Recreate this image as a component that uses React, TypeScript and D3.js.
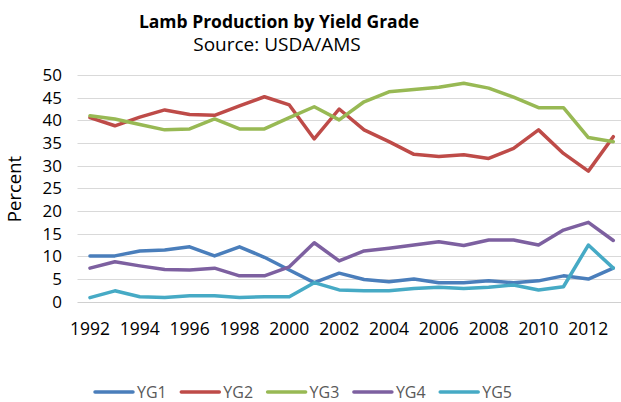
import * as d3 from "d3";
import { useEffect, useRef } from "react";

const years = [
  1992, 1993, 1994, 1995, 1996, 1997, 1998, 1999, 2000, 2001, 2002,
  2003, 2004, 2005, 2006, 2007, 2008, 2009, 2010, 2011, 2012, 2013,
];
const yg1 = [10.1, 10.1, 11.2, 11.4, 12.1, 10.1, 12.1, 9.8, 7.0, 4.2, 6.3, 4.9, 4.4, 5.0, 4.2, 4.2, 4.6, 4.2, 4.6, 5.7, 5.0, 7.4];
const yg2 = [40.6, 38.8, 40.7, 42.3, 41.3, 41.1, 43.2, 45.2, 43.4, 35.9, 42.5, 37.9, 35.3, 32.5, 32.0, 32.4, 31.6, 33.8, 37.9, 32.7, 28.8, 36.4];
const yg3 = [41.0, 40.3, 39.1, 37.9, 38.1, 40.3, 38.1, 38.1, 40.6, 43.0, 40.1, 44.1, 46.3, 46.8, 47.3, 48.2, 47.1, 45.1, 42.8, 42.8, 36.2, 35.3];
const yg4 = [7.4, 8.8, 7.9, 7.1, 7.0, 7.4, 5.7, 5.7, 7.7, 13.0, 9.0, 11.2, 11.8, 12.5, 13.2, 12.4, 13.6, 13.6, 12.5, 15.8, 17.5, 13.5];
const yg5 = [0.9, 2.4, 1.1, 0.9, 1.3, 1.3, 0.9, 1.1, 1.1, 4.2, 2.6, 2.4, 2.4, 2.9, 3.2, 2.9, 3.2, 3.7, 2.6, 3.3, 12.5, 7.4];
const seriesNames = ["YG1", "YG2", "YG3", "YG4", "YG5"];
const seriesColors = ["#4a7ebb", "#be4b48", "#98b954", "#7d60a0", "#46aac5"];
const yTicks = [0, 5, 10, 15, 20, 25, 30, 35, 40, 45, 50];
const xTicks = [1992, 1994, 1996, 1998, 2000, 2002, 2004, 2006, 2008, 2010, 2012];

const font = "'Open Sans', 'DejaVu Sans', sans-serif";

function drawChart(svgElement: SVGSVGElement) {
  const width = 621;
  const height = 402;
  const svg = d3.select(svgElement);
  svg.selectAll("*").remove();
  svg.attr("viewBox", `0 0 ${width} ${height}`);

  const step = 24.92;
  const x = d3
    .scaleLinear()
    .domain([1991.5, 2013.5])
    .range([77.5, 77.5 + 22 * step]);
  const y = d3.scaleLinear().domain([0, 50]).range([301.7, 75]);

  svg
    .append("rect")
    .attr("width", width)
    .attr("height", height)
    .attr("fill", "#ffffff");

  // titles
  svg
    .append("text")
    .attr("x", 279)
    .attr("y", 28)
    .attr("text-anchor", "middle")
    .attr("font-family", font)
    .attr("font-size", 17.5)
    .attr("font-weight", "bold")
    .attr("fill", "#000")
    .text("Lamb Production by Yield Grade");
  svg
    .append("text")
    .attr("x", 277)
    .attr("y", 51)
    .attr("text-anchor", "middle")
    .attr("font-family", font)
    .attr("font-size", 19)
    .attr("fill", "#000")
    .text("Source: USDA/AMS");

  // gridlines
  svg
    .append("g")
    .selectAll("line")
    .data(yTicks)
    .join("line")
    .attr("x1", x(1991.5))
    .attr("x2", width)
    .attr("y1", (d) => Math.round(y(d)) + 0.5)
    .attr("y2", (d) => Math.round(y(d)) + 0.5)
    .attr("stroke", (d) => (d === 0 ? "#d0d0d0" : "#d9d9d9"))
    .attr("stroke-width", 1.2);

  // y axis labels
  svg
    .append("g")
    .selectAll("text")
    .data(yTicks)
    .join("text")
    .attr("x", 62)
    .attr("y", (d) => y(d) + 6)
    .attr("text-anchor", "end")
    .attr("font-family", font)
    .attr("font-size", 17)
    .attr("fill", "#000")
    .text((d) => d);

  // x axis labels
  svg
    .append("g")
    .selectAll("text")
    .data(xTicks)
    .join("text")
    .attr("x", (d) => x(d))
    .attr("y", 335)
    .attr("text-anchor", "middle")
    .attr("font-family", font)
    .attr("font-size", 17.5)
    .attr("fill", "#000")
    .text((d) => d);

  svg
    .append("text")
    .attr("transform", "translate(21,189) rotate(-90)")
    .attr("text-anchor", "middle")
    .attr("font-family", font)
    .attr("font-size", 18.5)
    .attr("fill", "#000")
    .text("Percent");

  const allSeries = [yg1, yg2, yg3, yg4, yg5];
  const line = d3
    .line<number>()
    .x((_, i) => x(years[i]))
    .y((d) => y(d));

  svg
    .append("g")
    .selectAll("path")
    .data(allSeries)
    .join("path")
    .attr("d", (d) => line(d))
    .attr("fill", "none")
    .attr("stroke", (_, i) => seriesColors[i])
    .attr("stroke-width", 3.5)
    .attr("stroke-linejoin", "round")
    .attr("stroke-linecap", "round");

  // legend
  const legend = svg
    .append("g")
    .selectAll("g")
    .data(seriesNames)
    .join("g")
    .attr("transform", (_, i) => `translate(${95 + i * 86.3},392)`);
  legend
    .append("line")
    .attr("x1", 0)
    .attr("x2", 38)
    .attr("stroke", (_, i) => seriesColors[i])
    .attr("stroke-width", 3.5)
    .attr("stroke-linecap", "round");
  legend
    .append("text")
    .attr("x", 42)
    .attr("y", 6)
    .attr("font-family", font)
    .attr("font-size", 16)
    .attr("fill", "#595959")
    .text((d) => d);
}

export default function App() {
  const svgRef = useRef<SVGSVGElement>(null);

  useEffect(() => {
    if (svgRef.current) drawChart(svgRef.current);
  }, []);

  return (
    <svg
      ref={svgRef}
      width={621}
      height={402}
      style={{ position: "fixed", left: 0, top: 0, display: "block" }}
      role="img"
      aria-label="Lamb Production by Yield Grade"
    />
  );
}
